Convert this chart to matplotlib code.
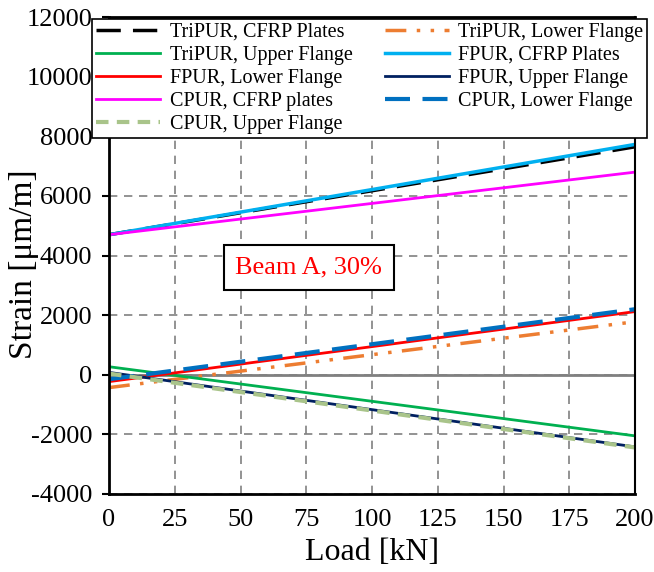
import matplotlib
matplotlib.use("Agg")
import matplotlib.pyplot as plt

plt.rcParams['font.family'] = ['Liberation Serif', 'DejaVu Serif']
plt.rcParams['axes.unicode_minus'] = False

# data: strain at start / end of loading
load = [0, 200]
tripur_cfrp = [4700, 7650]
tripur_lower = [-430, 1780]
tripur_upper = [270, -2050]
fpur_cfrp = [4700, 7730]
fpur_lower = [-230, 2120]
fpur_upper = [80, -2420]
cpur_cfrp = [4700, 6800]
cpur_lower = [-150, 2200]
cpur_upper = [40, -2440]

labels = ['TriPUR, CFRP Plates', 'TriPUR, Lower Flange', 'TriPUR, Upper Flange',
          'FPUR, CFRP Plates', 'FPUR, Lower Flange', 'FPUR, Upper Flange',
          'CPUR, CFRP plates', 'CPUR, Lower Flange', 'CPUR, Upper Flange']
xticks = [0, 25, 50, 75, 100, 125, 150, 175, 200]
yticks = [-4000, -2000, 0, 2000, 4000, 6000, 8000, 10000, 12000]


def main():
    fig = plt.figure(figsize=(6.54, 5.72), dpi=100)
    ax = fig.add_axes([0.1667, 0.1364, 0.8043, 0.8336])

    ax.axhline(0, color='#808080', linewidth=2, zorder=1)

    h = []
    h += ax.plot(load, tripur_cfrp, color='black', lw=2.5, dashes=(7, 3.5))
    h += ax.plot(load, tripur_lower, color='#ED7D31', lw=2.5, dashes=(6, 3, 1, 3, 1, 3))
    h += ax.plot(load, tripur_upper, color='#00B050', lw=2)
    h += ax.plot(load, fpur_cfrp, color='#00B0F0', lw=2.5)
    h += ax.plot(load, fpur_lower, color='#FF0000', lw=2)
    h += ax.plot(load, fpur_upper, color='#002060', lw=2)
    h += ax.plot(load, cpur_cfrp, color='#FF00FF', lw=2)
    h += ax.plot(load, cpur_lower, color='#0070C0', lw=3, dashes=(6, 3))
    h += ax.plot(load, cpur_upper, color='#A9C48A', lw=3, dashes=(3, 2))

    ax.set_xlim(0, 200)
    ax.set_ylim(-4000, 12000)
    ax.set_xticks(xticks)
    ax.set_yticks(yticks)
    ax.tick_params(axis='both', labelsize=19)
    ax.tick_params(axis='x', length=0, pad=11)
    ax.tick_params(axis='y', length=5, width=1.5, direction='out', pad=7)
    ax.grid(True, color='#808080', linestyle=(0, (5, 4)), linewidth=1.2)
    ax.set_axisbelow(True)
    for s in ax.spines.values():
        s.set_color('black')
    ax.spines['left'].set_linewidth(2)
    ax.spines['bottom'].set_linewidth(2)
    ax.spines['right'].set_linewidth(1.5)
    ax.spines['top'].set_linewidth(2)

    ax.set_xlabel('Load [kN]', fontsize=23, labelpad=5)
    ax.set_ylabel('Strain [μm/m]', fontsize=24, va='center')
    ax.yaxis.set_label_coords(24 / 654, 0.538, transform=fig.transFigure)

    ax.text(76, 3600, 'Beam A, 30%', color='red', fontsize=19,
            ha='center', va='center',
            bbox=dict(boxstyle='square,pad=0.45', fc='white', ec='black', lw=1.5))

    order = [0, 2, 4, 6, 8, 1, 3, 5, 7]
    leg = fig.legend([h[i] for i in order], [labels[i] for i in order],
                     loc='upper left', ncol=2,
                     bbox_to_anchor=(0.1407, 0.967),
                     bbox_transform=fig.transFigure, borderaxespad=0,
                     fontsize=14.5, frameon=True, fancybox=False,
                     handlelength=3.2, handletextpad=0.45, labelspacing=0.19,
                     borderpad=0.2, columnspacing=1.6)
    leg.get_frame().set_edgecolor('black')
    leg.get_frame().set_linewidth(1.2)
    leg.get_frame().set_alpha(1)

    fig.savefig('out.png', dpi=100)


if __name__ == "__main__":
    main()
